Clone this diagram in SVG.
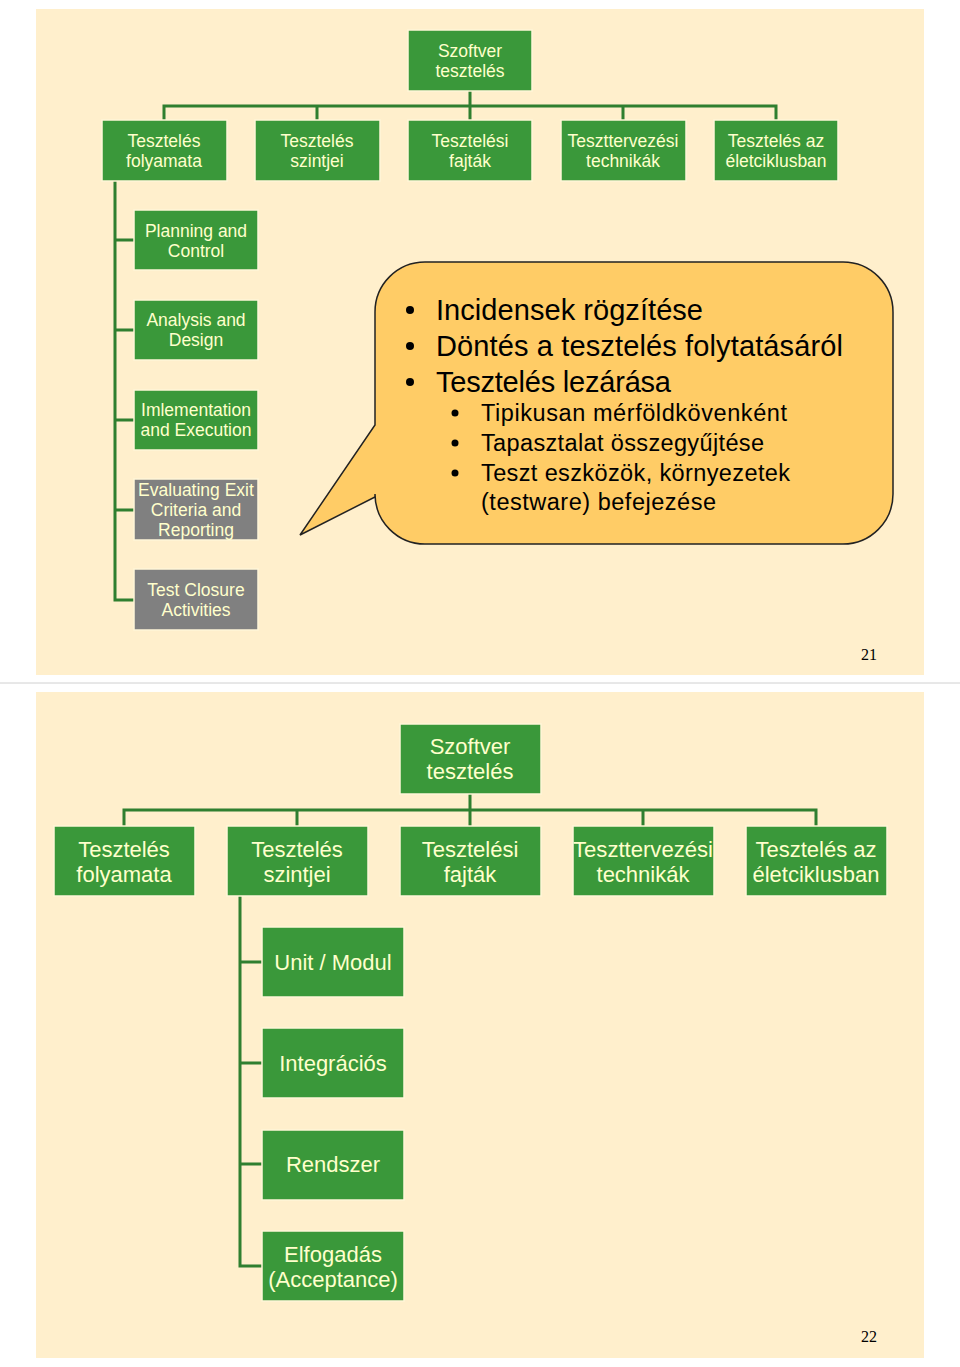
<svg xmlns="http://www.w3.org/2000/svg" width="960" height="1367" viewBox="0 0 960 1367">
<style>
.slide{fill:#FFEFCC}
.g{fill:#3A983A;stroke:#FFF6D8;stroke-width:1.5}
.gr{fill:#808080;stroke:#FFF6D8;stroke-width:1.5}
.t{font-family:"Liberation Sans",Arial,sans-serif;fill:#FFFFCC;text-anchor:middle}
.s1{font-size:17.5px}
.s2{font-size:22px}
.c{fill:none;stroke:#2F7F2F;stroke-width:3}
.b{font-family:"Liberation Sans",Arial,sans-serif;fill:#000}
.num{font-family:"Liberation Serif","Times New Roman",serif;font-size:16px;fill:#000;text-anchor:middle}
</style>
<rect width="960" height="1367" fill="#FFFFFF"/>
<rect class="slide" x="36" y="9" width="888" height="666"/>
<line x1="0" y1="683" x2="960" y2="683" stroke="#D0D0D0" stroke-width="1"/>
<rect class="slide" x="36" y="692" width="888" height="666"/>

<g id="connectors">
<path class="c" d="M470 91V106M164 120V106H776V120M317 106V120M470 106V120M623 106V120"/>
<path class="c" d="M115 181V600H134M115 240H134M115 330H134M115 420H134M115 510H134"/>
<path class="c" d="M470 794V810M124 826V810H816V826M297 810V826M470 810V826M643 810V826"/>
<path class="c" d="M240 896V1266H262M240 962H262M240 1063H262M240 1164H262"/>
</g>

<g id="s1-root"><rect class="g" x="408" y="30" width="124" height="61"/><text class="t s1" x="470" y="57">Szoftver</text><text class="t s1" x="470" y="77">tesztelés</text></g>
<g id="s1-folyamata"><rect class="g" x="102" y="120" width="125" height="61"/><text class="t s1" x="164" y="147">Tesztelés</text><text class="t s1" x="164" y="167">folyamata</text></g>
<g id="s1-szintjei"><rect class="g" x="255" y="120" width="125" height="61"/><text class="t s1" x="317" y="147">Tesztelés</text><text class="t s1" x="317" y="167">szintjei</text></g>
<g id="s1-fajtak"><rect class="g" x="408" y="120" width="124" height="61"/><text class="t s1" x="470" y="147">Tesztelési</text><text class="t s1" x="470" y="167">fajták</text></g>
<g id="s1-technikak"><rect class="g" x="561" y="120" width="125" height="61"/><text class="t s1" x="623" y="147">Teszttervezési</text><text class="t s1" x="623" y="167">technikák</text></g>
<g id="s1-eletciklus"><rect class="g" x="714" y="120" width="124" height="61"/><text class="t s1" x="776" y="147">Tesztelés az</text><text class="t s1" x="776" y="167">életciklusban</text></g>

<g id="s1-planning"><rect class="g" x="134" y="210" width="124" height="60"/><text class="t s1" x="196" y="237">Planning and</text><text class="t s1" x="196" y="257">Control</text></g>
<g id="s1-analysis"><rect class="g" x="134" y="300" width="124" height="60"/><text class="t s1" x="196" y="326">Analysis and</text><text class="t s1" x="196" y="346">Design</text></g>
<g id="s1-impl"><rect class="g" x="134" y="390" width="124" height="60"/><text class="t s1" x="196" y="416">Imlementation</text><text class="t s1" x="196" y="436">and Execution</text></g>
<g id="s1-eval"><rect class="gr" x="134" y="479" width="124" height="61"/><text class="t s1" x="196" y="496">Evaluating Exit</text><text class="t s1" x="196" y="516">Criteria and</text><text class="t s1" x="196" y="536">Reporting</text></g>
<g id="s1-closure"><rect class="gr" x="134" y="569" width="124" height="61"/><text class="t s1" x="196" y="596">Test Closure</text><text class="t s1" x="196" y="616">Activities</text></g>

<g id="callout">
<path d="M425 262H843A50 50 0 0 1 893 312V494A50 50 0 0 1 843 544H425A50 50 0 0 1 375 494V497L300 535L375 425V312A50 50 0 0 1 425 262Z" fill="#FFCC66" stroke="#222" stroke-width="1.5"/>
<g class="b" font-size="29px">
<circle cx="410" cy="310" r="4"/><text x="436" y="320" textLength="267">Incidensek rögzítése</text>
<circle cx="410" cy="346" r="4"/><text x="436" y="356" textLength="407">Döntés a tesztelés folytatásáról</text>
<circle cx="410" cy="382" r="4"/><text x="436" y="392" textLength="235">Tesztelés lezárása</text>
</g>
<g class="b" font-size="23.5px">
<circle cx="455" cy="413" r="3.5"/><text x="481" y="421" textLength="306">Tipikusan mérföldkövenként</text>
<circle cx="455" cy="443" r="3.5"/><text x="481" y="451" textLength="283">Tapasztalat összegyűjtése</text>
<circle cx="455" cy="473" r="3.5"/><text x="481" y="481" textLength="309">Teszt eszközök, környezetek</text>
<text x="481" y="510" textLength="235">(testware) befejezése</text>
</g>
</g>
<text class="num" x="869" y="660">21</text>

<g id="s2-root"><rect class="g" x="400" y="724" width="141" height="70"/><text class="t s2" x="470" y="754">Szoftver</text><text class="t s2" x="470" y="779">tesztelés</text></g>
<g id="s2-folyamata"><rect class="g" x="54" y="826" width="141" height="70"/><text class="t s2" x="124" y="857">Tesztelés</text><text class="t s2" x="124" y="882">folyamata</text></g>
<g id="s2-szintjei"><rect class="g" x="227" y="826" width="141" height="70"/><text class="t s2" x="297" y="857">Tesztelés</text><text class="t s2" x="297" y="882">szintjei</text></g>
<g id="s2-fajtak"><rect class="g" x="400" y="826" width="141" height="70"/><text class="t s2" x="470" y="857">Tesztelési</text><text class="t s2" x="470" y="882">fajták</text></g>
<g id="s2-technikak"><rect class="g" x="573" y="826" width="141" height="70"/><text class="t s2" x="643" y="857" textLength="140" lengthAdjust="spacingAndGlyphs">Teszttervezési</text><text class="t s2" x="643" y="882">technikák</text></g>
<g id="s2-eletciklus"><rect class="g" x="746" y="826" width="141" height="70"/><text class="t s2" x="816" y="857">Tesztelés az</text><text class="t s2" x="816" y="882" textLength="127" lengthAdjust="spacingAndGlyphs">életciklusban</text></g>

<g id="s2-unit"><rect class="g" x="262" y="927" width="142" height="70"/><text class="t s2" x="333" y="970">Unit / Modul</text></g>
<g id="s2-integr"><rect class="g" x="262" y="1028" width="142" height="70"/><text class="t s2" x="333" y="1071">Integrációs</text></g>
<g id="s2-rendszer"><rect class="g" x="262" y="1130" width="142" height="70"/><text class="t s2" x="333" y="1172">Rendszer</text></g>
<g id="s2-elfogadas"><rect class="g" x="262" y="1231" width="142" height="70"/><text class="t s2" x="333" y="1262">Elfogadás</text><text class="t s2" x="333" y="1287">(Acceptance)</text></g>
<text class="num" x="869" y="1342">22</text>
</svg>
